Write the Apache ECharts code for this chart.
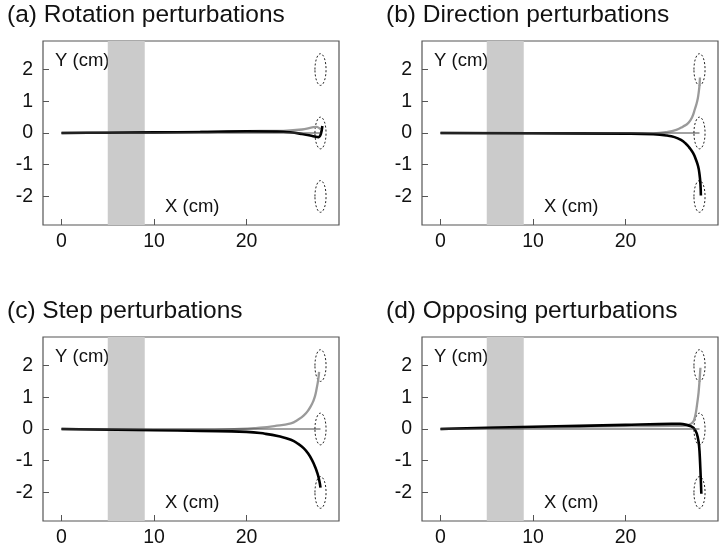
<!DOCTYPE html>
<html lang="en">
<head>
    <meta charset="UTF-8">
    <title>Perturbation trajectories</title>
    <style>
        html, body { margin: 0; padding: 0; background: #fff; }
        #chart { width: 720px; height: 548px; }
    </style>
</head>
<body>
    <div id="chart"></div>
</body>
<script src="https://cdn.jsdelivr.net/npm/echarts@6/dist/echarts.min.js"></script>
<script type="text/javascript">
    // panel titles
    const panelTitles = ['(a) Rotation perturbations', '(b) Direction perturbations',
        '(c) Step perturbations', '(d) Opposing perturbations'];

    // tick labels
    const xTicks = [0, 10, 20];
    const yTicks = [-2, -1, 0, 1, 2];

    // shaded band (cm)
    const bandX = [5, 9];

    // targets: centre x, y and half-size in cm
    const targets = [[28, 2], [28, 0], [28, -2]];
    const targetRadius = [0.6, 0.5];

    // unperturbed straight path
    const straightPath = [[0, 0], [28, 0]];

    // mean trajectories, per panel
    const grayA = [[0, 0], [5, 0.01], [10, 0.02], [15, 0.04], [20, 0.06], [24, 0.07], [26, 0.11], [27.6, 0.19], [28, 0.12]];
    const blackA = [[0, 0], [5, 0.01], [10, 0.02], [15, 0.03], [20, 0.05], [24, 0.04], [26, -0.03], [27.2, -0.1], [27.8, -0.13], [28.05, -0.02], [28.2, 0.22]];

    const grayB = [[0, 0], [10, -0.01], [20, -0.02], [23, -0.01], [24.5, 0.03], [25.5, 0.1], [26.2, 0.2], [26.8, 0.32], [27.2, 0.5],
        [27.5, 0.75], [27.75, 1.0], [27.9, 1.25], [28.0, 1.5], [28.05, 1.75]];
    const blackB = [[0, 0], [10, -0.01], [20, -0.02], [23, -0.04], [24.5, -0.08], [25.3, -0.13], [26, -0.22], [26.5, -0.33], [26.9, -0.46],
        [27.3, -0.63], [27.6, -0.83], [27.85, -1.05], [28.0, -1.3], [28.1, -1.6], [28.15, -1.97]];

    const grayC = [[0, 0], [10, -0.03], [15, -0.03], [19.3, 0.0], [21, 0.03], [23, 0.09], [24.8, 0.18], [25.6, 0.3], [26.2, 0.43],
        [26.7, 0.6], [27.1, 0.8], [27.4, 1.03], [27.6, 1.3], [27.75, 1.55], [27.85, 1.8]];
    const blackC = [[0, 0], [10, -0.04], [15, -0.06], [20, -0.09], [22, -0.15], [23.5, -0.23], [24.8, -0.34], [25.6, -0.47], [26.2, -0.61],
        [26.7, -0.79], [27.1, -0.99], [27.4, -1.18], [27.65, -1.38], [27.85, -1.6], [28.0, -1.85]];

    const grayD = [[0, 0], [5, 0.03], [10, 0.05], [15, 0.07], [20, 0.09], [25, 0.1], [26.5, 0.11], [27.1, 0.17], [27.4, 0.27],
        [27.6, 0.5], [27.75, 0.8], [27.9, 1.15], [28.0, 1.5], [28.1, 1.93]];
    const blackD = [[0, 0], [5, 0.04], [10, 0.07], [15, 0.1], [20, 0.13], [25, 0.16], [25.9, 0.16], [26.6, 0.13], [27.1, 0.08],
        [27.45, 0.0], [27.7, -0.14], [27.9, -0.4], [28.0, -0.7], [28.1, -1.3], [28.2, -2.04]];

    const grays = [grayA, grayB, grayC, grayD];
    const blacks = [blackA, blackB, blackC, blackD];

    // layout of the four panels
    const boxes = [
        { left: 43, top: 41, smooth: 0.3 },
        { left: 422, top: 41, smooth: 0.5 },
        { left: 43, top: 337, smooth: 0.5 },
        { left: 422, top: 337, smooth: 0.3 }
    ];
    const boxW = 296, boxH = 184;
    const font = 'Liberation Sans, Arial, Helvetica, sans-serif';

    let grid = [], xAxis = [], yAxis = [], series = [], title = [], graphic = [];

    boxes.forEach((b, i) => {
        grid.push({
            left: b.left, top: b.top, width: boxW, height: boxH,
            show: true, borderColor: '#555', borderWidth: 1.2, backgroundColor: 'transparent'
        });
        title.push({
            text: panelTitles[i],
            left: b.left - 36, top: b.top - 38, padding: 0,
            textStyle: { fontFamily: font, fontSize: 24.5, fontWeight: 'normal', color: '#111' }
        });
        xAxis.push({
            type: 'value', gridIndex: i, min: -2, max: 30,
            splitLine: { show: false },
            axisLine: { show: false, onZero: false },
            axisTick: { show: true, inside: true, length: 6, customValues: xTicks, lineStyle: { color: '#555' } },
            axisLabel: { customValues: xTicks, fontFamily: font, fontSize: 19.5, color: '#111', margin: 7 }
        });
        yAxis.push({
            type: 'value', gridIndex: i, min: -2.9, max: 2.9,
            splitLine: { show: false },
            axisLine: { show: false, onZero: false },
            axisTick: { show: true, inside: true, length: 6, customValues: yTicks, lineStyle: { color: '#555' } },
            axisLabel: { customValues: yTicks, fontFamily: font, fontSize: 19.5, color: '#111', margin: 10 }
        });

        // shaded band
        series.push({
            type: 'line', xAxisIndex: i, yAxisIndex: i, data: [],
            silent: true,
            markArea: {
                silent: true,
                itemStyle: { color: '#cbcbcb' },
                data: [[{ xAxis: bandX[0], yAxis: -2.9 }, { xAxis: bandX[1], yAxis: 2.9 }]]
            }
        });
        // gray and black mean paths
        series.push({
            type: 'line', xAxisIndex: i, yAxisIndex: i, data: grays[i],
            showSymbol: false, smooth: b.smooth, silent: true,
            lineStyle: { color: '#9a9a9a', width: 2.3 }
        });
        series.push({
            type: 'line', xAxisIndex: i, yAxisIndex: i, data: blacks[i],
            showSymbol: false, smooth: b.smooth, silent: true,
            lineStyle: { color: '#000', width: 2.6 }
        });
        series.push({
            type: 'line', xAxisIndex: i, yAxisIndex: i, data: straightPath,
            showSymbol: false, silent: true,
            lineStyle: { color: '#444', width: 1 }
        });
        // dashed target ellipses
        series.push({
            type: 'custom', xAxisIndex: i, yAxisIndex: i, data: targets, silent: true,
            renderItem: function (params, api) {
                const c = api.coord([api.value(0), api.value(1)]);
                const s = api.size(targetRadius);
                return {
                    type: 'ellipse',
                    shape: { cx: c[0], cy: c[1], rx: s[0], ry: s[1] },
                    style: { fill: 'none', stroke: '#222', lineWidth: 1, lineDash: [2, 2] }
                };
            }
        });

        graphic.push({
            type: 'text', left: b.left + 12, top: b.top + 10,
            style: { text: 'Y (cm)', font: '18.5px ' + font, fill: '#111' }
        });
        graphic.push({
            type: 'text', left: b.left + 122, top: b.top + 156,
            style: { text: 'X (cm)', font: '18.5px ' + font, fill: '#111' }
        });
    });

    let option = {
        backgroundColor: '#fff',
        animation: false,
        title: title,
        grid: grid,
        xAxis: xAxis,
        yAxis: yAxis,
        series: series,
        graphic: graphic
    };

    let chart = echarts.init(document.getElementById('chart'));
    chart.setOption(option);
</script>
</html>
